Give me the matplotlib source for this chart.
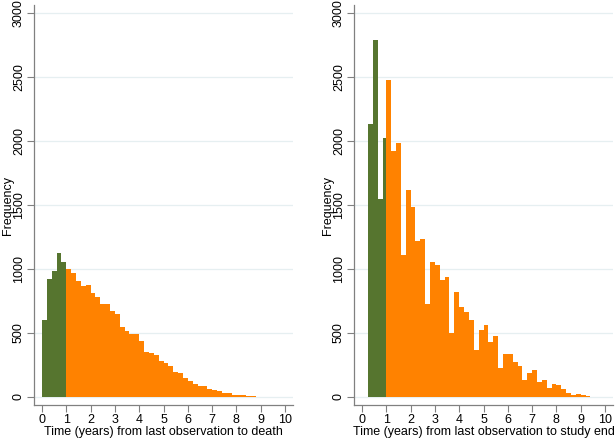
import numpy as np
import matplotlib.pyplot as plt

plt.rcParams['font.family'] = ['Liberation Sans', 'DejaVu Sans']

# Histogram data (bin width 0.2 years)
bin_width = 0.2

death_green_start = 0.0
death_green = [600, 920, 980, 1120, 1050]
death_orange_start = 1.0
death_orange = [1000, 969, 903, 869, 872, 809, 781, 721, 723, 671,
                650, 546, 514, 493, 491, 436, 352, 345, 326, 282,
                266, 240, 193, 183, 149, 123, 99, 86, 81, 60,
                50, 42, 29, 29, 16, 10, 16, 8, 3]

end_green_start = 0.26
end_green = [2131, 2789, 1543, 2021]
end_orange_start = 1.0
end_orange = [2475, 1922, 1984, 1104, 1614, 1486, 1217, 1230, 723, 1052,
              1031, 914, 935, 499, 815, 700, 661, 600, 366, 522,
              561, 426, 475, 222, 337, 334, 269, 243, 133, 188,
              206, 115, 130, 70, 99, 89, 60, 26, 10, 21,
              10, 5]

x_ticks = list(range(0, 11))
y_ticks = [0, 500, 1000, 1500, 2000, 2500, 3000]

green = '#56752F'
orange = '#FF8200'


def hist_panel(ax, g_start, g_vals, o_start, o_vals, xlabel):
    gx = g_start + bin_width * np.arange(len(g_vals))
    ox = o_start + bin_width * np.arange(len(o_vals))
    ax.bar(gx, g_vals, width=bin_width, align='edge', color=green,
           linewidth=0, zorder=2)
    ax.bar(ox, o_vals, width=bin_width, align='edge', color=orange,
           linewidth=0, zorder=3)

    ax.set_xlim(-0.33, 10.33)
    ax.set_ylim(-65, 3062)
    ax.set_xticks(x_ticks)
    ax.set_yticks(y_ticks)
    ax.set_yticklabels([str(v) for v in y_ticks], rotation=90, va='center')
    ax.tick_params(axis='both', direction='out', length=5, width=0.8,
                   color='#808080', labelsize=9, pad=1.5)
    ax.yaxis.grid(True, color='#e6eff1', linewidth=0.9)
    ax.set_axisbelow(True)
    for s in ['top', 'right']:
        ax.spines[s].set_visible(False)
    for s in ['left', 'bottom']:
        ax.spines[s].set_color('#808080')
        ax.spines[s].set_linewidth(0.9)
    ax.set_ylabel("Frequency", fontsize=9, va='center')
    ax.yaxis.set_label_coords(-0.1, 0.5)
    ax.set_xlabel(xlabel, fontsize=9, labelpad=0)


fig = plt.figure(figsize=(6.15, 4.4), dpi=100)
ax1 = fig.add_axes([34 / 615, 35 / 440, 259 / 615, 400 / 440])
ax2 = fig.add_axes([354 / 615, 35 / 440, 259 / 615, 400 / 440])

hist_panel(ax1, death_green_start, death_green, death_orange_start,
           death_orange, "Time (years) from last observation to death")
hist_panel(ax2, end_green_start, end_green, end_orange_start,
           end_orange, "Time (years) from last observation to study end")

plt.savefig("out.png", dpi=100)
